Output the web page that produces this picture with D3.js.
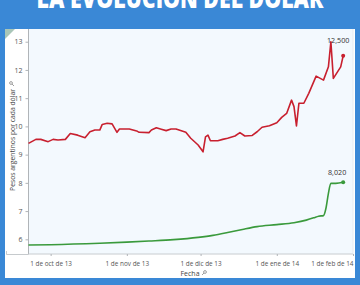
<!DOCTYPE html>
<html><head><meta charset="utf-8">
<script src="https://cdn.jsdelivr.net/npm/d3@7/dist/d3.min.js"></script>
<style>html,body{margin:0;padding:0;background:#3a88d6;overflow:hidden}svg{display:block}</style>
</head><body><svg id="c" width="360" height="285"></svg>
<script>
const title = "LA EVOLUCIÓN DEL DÓLAR";
const yAxisTitle = "Pesos argentinos por cada dólar";
const xAxisTitle = "Fecha";
const blueDates = ["2013-09-22","2013-09-25","2013-09-27","2013-09-30","2013-10-02","2013-10-04","2013-10-07","2013-10-09","2013-10-12","2013-10-15","2013-10-17","2013-10-19","2013-10-21","2013-10-22","2013-10-24","2013-10-26","2013-10-28","2013-10-29","2013-11-02","2013-11-05","2013-11-06","2013-11-10","2013-11-11","2013-11-13","2013-11-15","2013-11-17","2013-11-19","2013-11-21","2013-11-25","2013-11-27","2013-11-30","2013-12-02","2013-12-03","2013-12-04","2013-12-05","2013-12-08","2013-12-10","2013-12-12","2013-12-15","2013-12-17","2013-12-19","2013-12-22","2013-12-24","2013-12-26","2013-12-29","2014-01-01","2014-01-03","2014-01-05","2014-01-07","2014-01-08","2014-01-09","2014-01-10","2014-01-12","2014-01-14","2014-01-17","2014-01-20","2014-01-22","2014-01-23","2014-01-24","2014-01-27","2014-01-28"];
const blueValues = [9.40,9.54,9.54,9.46,9.54,9.52,9.54,9.75,9.69,9.60,9.81,9.87,9.87,10.07,10.11,10.09,9.79,9.91,9.91,9.84,9.79,9.78,9.87,9.95,9.90,9.85,9.91,9.91,9.79,9.58,9.34,9.10,9.63,9.69,9.49,9.49,9.54,9.58,9.66,9.78,9.66,9.68,9.81,9.97,10.02,10.13,10.32,10.46,10.93,10.70,10.02,10.82,10.82,11.17,11.78,11.64,12.11,13.00,11.70,12.11,12.50];
const officialDates = ["2013-09-22","2013-10-01","2013-10-21","2013-11-01","2013-11-10","2013-11-20","2013-11-30","2013-12-06","2013-12-12","2013-12-18","2013-12-24","2014-01-01","2014-01-08","2014-01-13","2014-01-16","2014-01-18","2014-01-20","2014-01-21","2014-01-22","2014-01-23","2014-01-25","2014-01-28"];
const officialValues = [5.80,5.81,5.86,5.90,5.94,5.99,6.07,6.14,6.24,6.35,6.45,6.52,6.59,6.68,6.76,6.82,6.84,7.10,7.63,7.98,7.98,8.02];
const yTicks = [6,7,8,9,10,11,12,13];
const xTickDates = ["2013-10-01","2013-11-01","2013-12-01","2014-01-01","2014-02-01"];
const xTickLabels = ["1 de oct de 13","1 de nov de 13","1 de dic de 13","1 de ene de 14","1 de feb de 14"];
const blueLabel = "12,500";
const officialLabel = "8,020";

const parse = d3.timeParse("%Y-%m-%d");
const svg = d3.select("#c");
const font = "'Open Sans','Noto Sans',sans-serif";

// title (cut off at top, as in the original)
svg.append("text").attr("x",180).attr("y",7.5).attr("text-anchor","middle")
  .attr("font-family","'Open Sans','DejaVu Sans',sans-serif").attr("font-weight","800")
  .attr("font-size",26).attr("fill","#fff")
  .attr("textLength",287).attr("lengthAdjust","spacingAndGlyphs").text(title);

// panel
svg.append("rect").attr("x",5).attr("y",29).attr("width",350).attr("height",249).attr("fill","#ffffff");

const L=28.5, R=353, T=29, B=254;
const x = d3.scaleTime().domain([parse("2013-09-22"), parse("2014-02-01")]).range([L,R]);
const y = d3.scaleLinear().domain([5.48,13.45]).range([B,T]);

svg.append("rect").attr("x",L).attr("y",T).attr("width",R-L).attr("height",B-T).attr("fill","#f3f9fe");

// corner triangle
svg.append("path").attr("d","M5,29 L15,29 L5,39 Z").attr("fill","#a9c6b8");
// bottom-left bracket
svg.append("path").attr("d","M6.5,251 V254.5 H28.5 V251").attr("fill","none").attr("stroke","#b8bcc0").attr("stroke-width",0.8);

// y axis
const yAxis = d3.axisLeft(y).tickValues(yTicks).tickSize(3).tickPadding(3).tickFormat(d3.format("d"));
const gy = svg.append("g").attr("transform",`translate(${L},0)`).call(yAxis);
gy.select(".domain").attr("stroke","#b0b4b8").attr("d",`M0,${T}V${B}`);
gy.selectAll(".tick line").attr("stroke","#b0b4b8");
gy.selectAll(".tick text").attr("font-family",font).attr("font-size",7).attr("fill","#555");

// x axis
const xAxis = d3.axisBottom(x).tickValues(xTickDates.map(parse)).tickSize(2).tickPadding(5)
  .tickFormat((d,i)=>xTickLabels[i]);
const gx = svg.append("g").attr("transform",`translate(0,${B})`).call(xAxis);
gx.select(".domain").attr("stroke","#c8ccd0").attr("d",`M${L},0H${R}`);
gx.selectAll(".tick line").attr("stroke","#b0b4b8");
gx.selectAll(".tick text").attr("font-family",font).attr("font-size",6.4).attr("fill","#555");
gx.selectAll(".tick text").filter((d,i)=>i===xTickDates.length-1).attr("text-anchor","end").attr("dx",0);
// right border of plot
svg.append("line").attr("x1",R).attr("x2",R).attr("y1",T).attr("y2",B).attr("stroke","#e2e8ee").attr("stroke-width",0.8);

// axis titles
svg.append("text").attr("transform","translate(15,140) rotate(-90)").attr("text-anchor","middle")
  .attr("font-family",font).attr("font-size",6.8).attr("fill","#444").text(yAxisTitle);
svg.append("text").attr("x",190).attr("y",276).attr("text-anchor","middle")
  .attr("font-family",font).attr("font-size",7).attr("fill","#444").text(xAxisTitle);
// small sort icons
function icon(cx,cy,rot){
  const g=svg.append("g").attr("transform",`translate(${cx},${cy}) rotate(${rot})`).attr("stroke","#777").attr("fill","none").attr("stroke-width",0.7);
  g.append("circle").attr("cx",1).attr("cy",-1).attr("r",1.4);
  g.append("line").attr("x1",0).attr("y1",0).attr("x2",-2).attr("y2",2);
}
icon(204,273,0);
icon(12,84,-90);

// lines
const blue = blueDates.map((d,i)=>({d:parse(d),v:blueValues[i]}));
const off = officialDates.map((d,i)=>({d:parse(d),v:officialValues[i]}));
const line = d3.line().x(p=>x(p.d)).y(p=>y(p.v));
svg.append("path").datum(blue).attr("d",line).attr("fill","none").attr("stroke","#c8202f").attr("stroke-width",1.6).attr("stroke-linejoin","round");
svg.append("path").datum(off).attr("d",line.curve(d3.curveMonotoneX)).attr("fill","none").attr("stroke","#3a9a3c").attr("stroke-width",1.6).attr("stroke-linejoin","round");
const bl = blue[blue.length-1], ol = off[off.length-1];
svg.append("circle").attr("cx",x(bl.d)).attr("cy",y(bl.v)).attr("r",2).attr("fill","#c8202f");
svg.append("circle").attr("cx",x(ol.d)).attr("cy",y(ol.v)).attr("r",2).attr("fill","#3a9a3c");
svg.append("text").attr("x",x(bl.d)-5).attr("y",y(bl.v)-13).attr("text-anchor","middle")
  .attr("font-family",font).attr("font-size",7.2).attr("fill","#333").text(blueLabel);
svg.append("text").attr("x",x(ol.d)-6).attr("y",y(ol.v)-7).attr("text-anchor","middle")
  .attr("font-family",font).attr("font-size",7.2).attr("fill","#333").text(officialLabel);
</script></body></html>
